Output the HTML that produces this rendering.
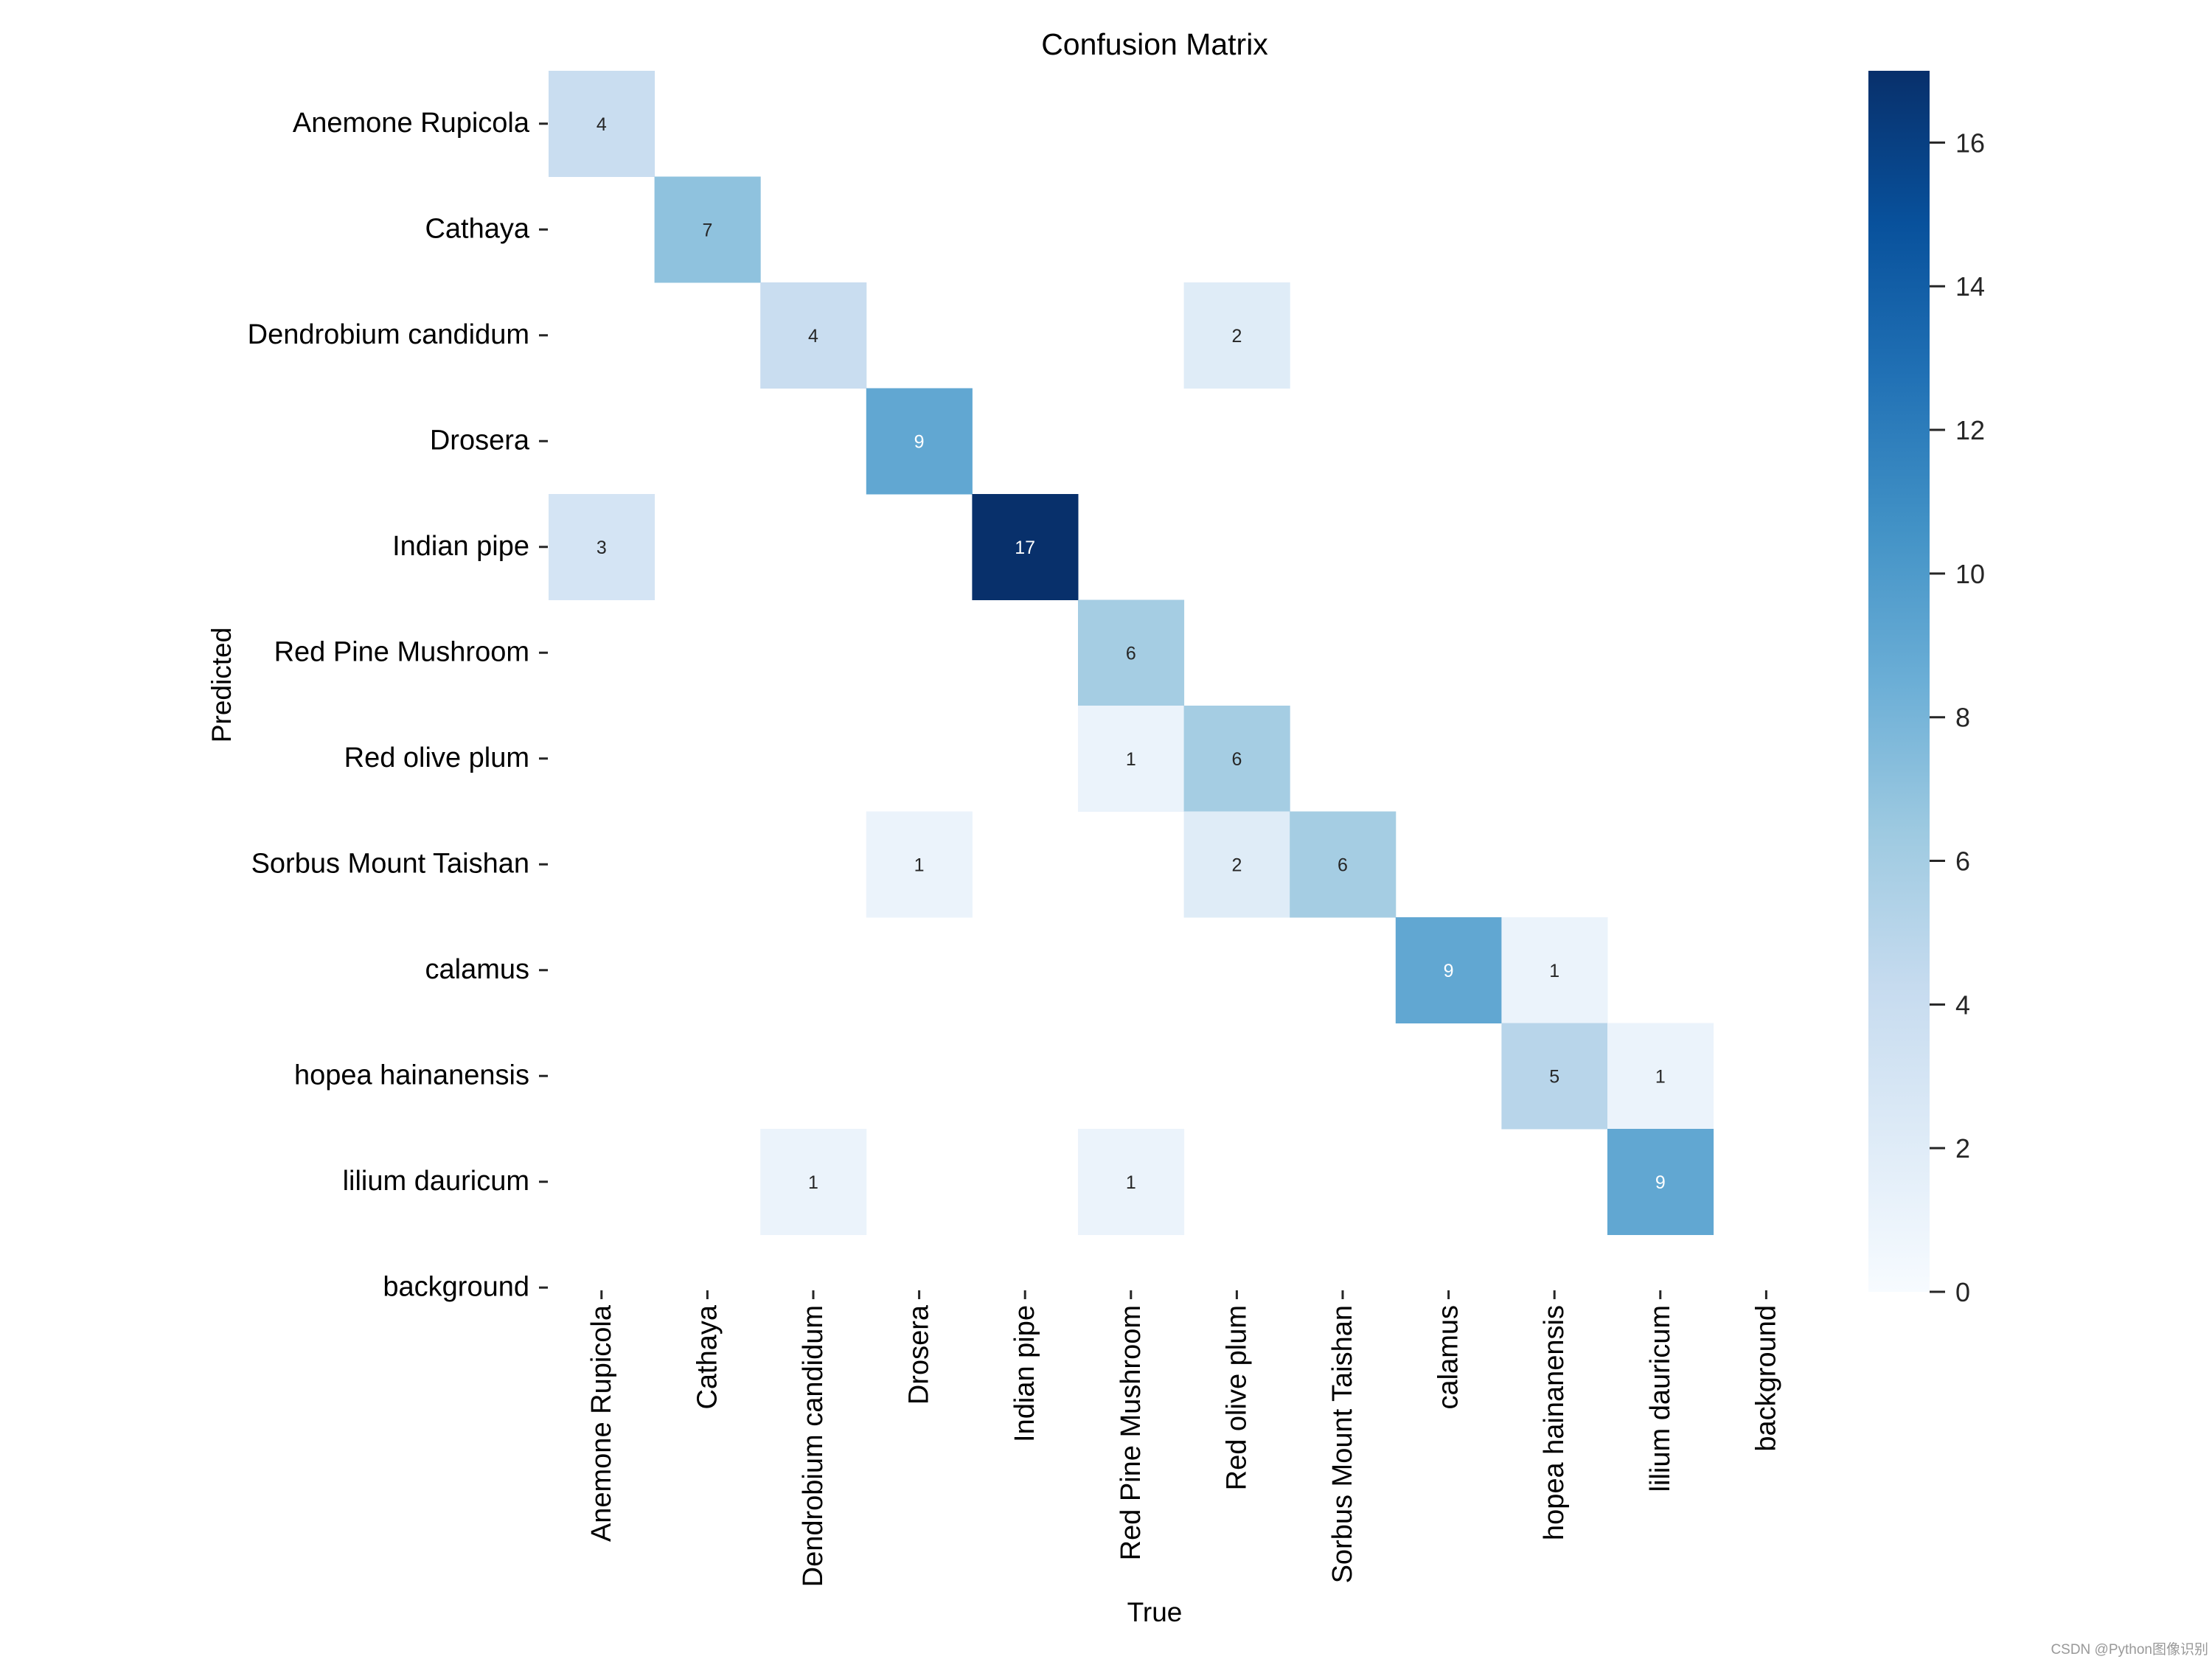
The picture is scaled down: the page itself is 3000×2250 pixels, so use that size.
<!DOCTYPE html>
<html><head><meta charset="utf-8"><style>
html,body{margin:0;padding:0;background:#fff;}
svg{display:block;font-family:"Liberation Sans","Noto Sans CJK SC",sans-serif;}
</style></head><body>
<svg id="chart" width="3000" height="2250" viewBox="0 0 3000 2250" xmlns="http://www.w3.org/2000/svg">
<rect width="3000" height="2250" fill="#fff"/>
<text x="1566" y="74" font-size="41" text-anchor="middle" fill="#000">Confusion Matrix</text>
<text x="1566" y="2199" font-size="37" text-anchor="middle" fill="#000">True</text>
<text transform="translate(313,929) rotate(-90)" font-size="37" text-anchor="middle" fill="#000">Predicted</text>
<g id="cells"></g>
<g id="ylabels"></g>
<g id="xlabels"></g>
<defs><linearGradient id="cbg" x1="0" y1="1" x2="0" y2="0"></linearGradient></defs>
<rect x="2534" y="96" width="83" height="1656" fill="url(#cbg)"/>
<g id="cbticks"></g>
<text x="2995" y="2243" font-size="19" text-anchor="end" fill="#999">CSDN @Python图像识别</text>
</svg>
<script>
const categories = ["Anemone Rupicola","Cathaya","Dendrobium candidum","Drosera","Indian pipe","Red Pine Mushroom","Red olive plum","Sorbus Mount Taishan","calamus","hopea hainanensis","lilium dauricum","background"];
const rowAnemone   = [4,0,0,0,0,0,0,0,0,0,0,0];
const rowCathaya   = [0,7,0,0,0,0,0,0,0,0,0,0];
const rowDendro    = [0,0,4,0,0,0,2,0,0,0,0,0];
const rowDrosera   = [0,0,0,9,0,0,0,0,0,0,0,0];
const rowIndian    = [3,0,0,0,17,0,0,0,0,0,0,0];
const rowRedPine   = [0,0,0,0,0,6,0,0,0,0,0,0];
const rowRedOlive  = [0,0,0,0,0,1,6,0,0,0,0,0];
const rowSorbus    = [0,0,0,1,0,0,2,6,0,0,0,0];
const rowCalamus   = [0,0,0,0,0,0,0,0,9,1,0,0];
const rowHopea     = [0,0,0,0,0,0,0,0,0,5,1,0];
const rowLilium    = [0,0,1,0,0,1,0,0,0,0,9,0];
const rowBackground= [0,0,0,0,0,0,0,0,0,0,0,0];
const matrix = [rowAnemone,rowCathaya,rowDendro,rowDrosera,rowIndian,rowRedPine,rowRedOlive,rowSorbus,rowCalamus,rowHopea,rowLilium,rowBackground];
const colorbarTicks = [0,2,4,6,8,10,12,14,16];
const vmax = 17;

const NS="http://www.w3.org/2000/svg";
const x0=744, y0=96, cw=143.6, ch=143.5;
const cbTop=96, cbBot=1752;
const xScale=i=>x0+i*cw;
const yScale=i=>y0+i*ch;
const cbScale=v=>cbBot-(v/vmax)*(cbBot-cbTop);
const stops=[[247,251,255],[222,235,247],[198,219,239],[158,202,225],[107,174,214],[66,146,198],[33,113,181],[8,81,156],[8,48,107]];
function blues(t){t=Math.max(0,Math.min(1,t));const p=t*8;const i=Math.min(7,Math.floor(p));const f=p-i;
 const c=stops[i].map((a,k)=>Math.round(a+(stops[i+1][k]-a)*f));return c;}
function lum(c){const l=c.map(v=>{v/=255;return v<=0.03928?v/12.92:Math.pow((v+0.055)/1.055,2.4)});return 0.2126*l[0]+0.7152*l[1]+0.0722*l[2];}
function mk(tag,attrs,parent){const e=document.createElementNS(NS,tag);for(const k in attrs)e.setAttribute(k,attrs[k]);parent.appendChild(e);return e;}

const cells=document.getElementById('cells');
matrix.forEach((row,r)=>row.forEach((v,c)=>{
 if(!v)return;
 const col=blues(v/vmax);
 const rect=mk('rect',{x:xScale(c),y:yScale(r),width:cw+0.5,height:ch+0.5,fill:`rgb(${col})`},cells);
 
 
 const t=mk('text',{x:xScale(c)+cw/2,y:yScale(r)+ch/2+9,'font-size':25,'text-anchor':'middle',fill:lum(col)<0.408?'#fff':'#262626'},cells);
 
 
 t.textContent=v;
}));

const yl=document.getElementById('ylabels');
categories.forEach((name,i)=>{
 const cy=yScale(i)+ch/2;
 const t=mk('text',{x:718,y:cy+11,'font-size':38,'text-anchor':'end',fill:'#000'},yl);
 
 
 t.textContent=name;
 const l=mk('line',{x1:731,x2:743,y1:cy,y2:cy,stroke:'#262626','stroke-width':3},yl);
 
 
});
const xl=document.getElementById('xlabels');
categories.forEach((name,i)=>{
 const cx=xScale(i)+cw/2;
 const l=mk('line',{x1:cx,x2:cx,y1:1750,y2:1762,stroke:'#262626','stroke-width':3},xl);
 
 
 const t=mk('text',{transform:`translate(${cx+12},1770) rotate(-90)`,'font-size':38,'text-anchor':'end',fill:'#000'},xl);
 
 
 t.textContent=name;
});

const grad=document.getElementById('cbg');
for(let k=0;k<=8;k++){mk('stop',{offset:(k/8),'stop-color':`rgb(${stops[k]})`},grad);}
const cbt=document.getElementById('cbticks');
colorbarTicks.forEach(v=>{
 const y=cbScale(v);
 const l=mk('line',{x1:2617,x2:2638,y1:y,y2:y,stroke:'#262626','stroke-width':3},cbt);
 
 
 const t=mk('text',{x:2652,y:y+13,'font-size':36,fill:'#262626'},cbt);
 
 
 t.textContent=v;
});
</script>
</body></html>
